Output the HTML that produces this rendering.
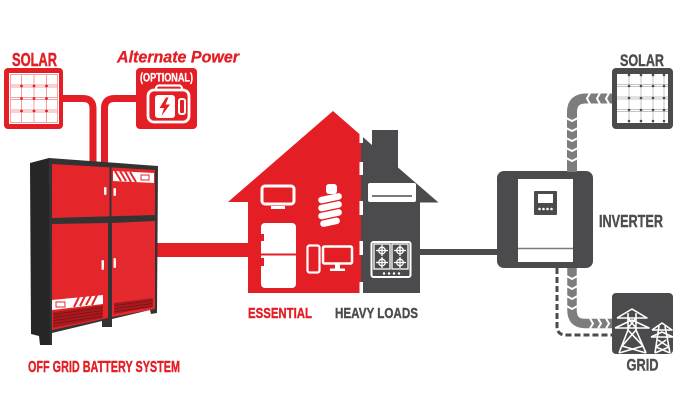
<!DOCTYPE html>
<html><head><meta charset="utf-8">
<style>
html,body{margin:0;padding:0;background:#fff;}
svg{display:block;}
text{font-family:"Liberation Sans",Arial,sans-serif;font-weight:bold;}
</style></head><body>
<svg width="696" height="402" viewBox="0 0 696 402" xmlns="http://www.w3.org/2000/svg">
<rect width="696" height="402" fill="#fff"/>

<!-- ===== LEFT SOLAR ===== -->
<text x="12" y="66" font-size="18" fill="#e31e24" stroke="#e31e24" stroke-width="0.5" textLength="45" lengthAdjust="spacingAndGlyphs">SOLAR</text>
<rect x="4" y="68" width="59" height="61" rx="4" fill="#e31e24"/>
<rect x="9" y="73" width="50" height="51" fill="#fff"/>
<rect x="10.5" y="74.5" width="47" height="48" fill="none" stroke="#f2a3a5" stroke-width="1"/>
<g stroke="#f2a3a5" stroke-width="1">
  <line x1="21.5" y1="74" x2="21.5" y2="123"/><line x1="34" y1="74" x2="34" y2="123"/><line x1="46.5" y1="74" x2="46.5" y2="123"/>
  <line x1="10" y1="85" x2="58" y2="85"/><line x1="10" y1="87" x2="58" y2="87"/>
  <line x1="10" y1="97.5" x2="58" y2="97.5"/><line x1="10" y1="99.5" x2="58" y2="99.5"/>
  <line x1="10" y1="110" x2="58" y2="110"/><line x1="10" y1="112" x2="58" y2="112"/>
</g>
<g fill="#e31e24">
  <circle cx="21.5" cy="86" r="1.4"/><circle cx="34" cy="86" r="1.4"/><circle cx="46.5" cy="86" r="1.4"/>
  <circle cx="21.5" cy="98.5" r="1.4"/><circle cx="34" cy="98.5" r="1.4"/><circle cx="46.5" cy="98.5" r="1.4"/>
  <circle cx="21.5" cy="111" r="1.4"/><circle cx="34" cy="111" r="1.4"/><circle cx="46.5" cy="111" r="1.4"/>
</g>

<!-- ===== ALTERNATE POWER ===== -->
<text x="117" y="62.5" font-size="16.5" font-style="italic" fill="#e31e24" stroke="#e31e24" stroke-width="0.3" textLength="122" lengthAdjust="spacingAndGlyphs">Alternate Power</text>
<rect x="136" y="68" width="61" height="61" rx="4" fill="#e31e24"/>
<text x="140" y="81.5" font-size="11.5" fill="#fff" stroke="#fff" stroke-width="0.3" textLength="53" lengthAdjust="spacingAndGlyphs">(OPTIONAL)</text>
<rect x="156" y="85.5" width="26" height="8" rx="3" fill="none" stroke="#fff" stroke-width="2.2"/>
<rect x="148" y="90" width="41" height="32" rx="6" fill="#e31e24" stroke="#fff" stroke-width="2.8"/>
<rect x="155" y="95" width="20" height="23" rx="3" fill="#fff"/>
<polygon points="166,97.5 159.5,108 164,108 161.5,116 170,104.5 165.5,104.5 168.5,97.5" fill="#e31e24"/>
<rect x="179" y="99" width="6" height="15" rx="2" fill="none" stroke="#fff" stroke-width="2"/>

<!-- red pipes -->
<path d="M63,98.5 H83 Q93,98.5 93,108.5 V166" fill="none" stroke="#e31e24" stroke-width="7"/>
<path d="M136,98.5 H114.5 Q104.5,98.5 104.5,108.5 V166" fill="none" stroke="#e31e24" stroke-width="7"/>

<!-- big red bar to house -->
<rect x="154" y="243" width="96" height="14" fill="#e31e24"/>

<!-- ===== CABINET ===== -->
<polygon points="30,163 49,158 52,345 40,345 39,336 31,334" fill="#262626"/>
<polygon points="49,158 158,166 157,313 151,314 150,310 112,319 112,327 102,327 102,321 52,333 52,345 50,345" fill="#333"/>
<polygon points="52,164 155,170 155,215 52,218" fill="#e4262b"/>
<line x1="110.5" y1="167" x2="110.5" y2="217" stroke="#333" stroke-width="2"/>
<polygon points="52,224 108,223 108,318 52,330" fill="#e4262b"/>
<polygon points="112,223 155,221 155,309 112,317" fill="#e52a2f"/>
<polygon points="53,312 103,305 103,318 53,328" fill="#a81a1e"/>
<g stroke="#7a1216" stroke-width="0.8">
  <line x1="54" y1="314.5" x2="102" y2="307.5"/><line x1="54" y1="317.5" x2="102" y2="310.5"/>
  <line x1="54" y1="320.5" x2="102" y2="313.5"/><line x1="54" y1="323.5" x2="102" y2="316.5"/>
</g>
<polygon points="114,303 153,298 153,307 114,314" fill="#a81a1e"/>
<g stroke="#7a1216" stroke-width="0.8">
  <line x1="115" y1="305.5" x2="152" y2="300.5"/><line x1="115" y1="308.5" x2="152" y2="303.5"/><line x1="115" y1="311.5" x2="152" y2="306.5"/>
</g>
<polygon points="113,171 154,173 154,183 113,181" fill="#fff"/>
<g stroke="#e4262b" stroke-width="2">
  <line x1="115" y1="171" x2="121" y2="181"/><line x1="120" y1="171" x2="126" y2="181"/><line x1="125" y1="171" x2="131" y2="182"/><line x1="130" y1="172" x2="136" y2="182"/>
</g>
<rect x="141" y="175" width="8" height="5" fill="none" stroke="#e4262b" stroke-width="1"/>
<polygon points="52,300 103,295 103,304 52,310" fill="#fff"/>
<g stroke="#e4262b" stroke-width="2">
  <line x1="74" y1="307" x2="79" y2="297"/><line x1="80" y1="306" x2="85" y2="296"/><line x1="86" y1="305" x2="91" y2="296"/><line x1="92" y1="305" x2="97" y2="295"/>
</g>
<rect x="56" y="302" width="9" height="5" fill="none" stroke="#e4262b" stroke-width="1"/>
<g fill="#f4f4f4">
  <rect x="104" y="187" width="2.5" height="8" rx="1"/><rect x="113.5" y="188" width="2.5" height="8" rx="1"/>
  <rect x="101.5" y="260" width="2.5" height="10" rx="1"/><rect x="113.5" y="258" width="2.5" height="10" rx="1"/>
</g>
<text x="28" y="372" font-size="16" fill="#e31e24" stroke="#e31e24" stroke-width="0.4" textLength="152" lengthAdjust="spacingAndGlyphs">OFF GRID BATTERY SYSTEM</text>

<!-- ===== HOUSE ===== -->
<path d="M228,202 L333,111 L361,135.4 L361,293 L248,293 L248,202 Z" fill="#e31e24"/>
<path d="M361,135.4 L372,145 L372,130 L398,130 L398,167.5 L438.5,202.5 L420,202.5 L420,293 L361,293 Z" fill="#4b4b4d"/>
<g fill="#fff">
  <rect x="359.5" y="134" width="3.5" height="9"/><rect x="359.5" y="162" width="3.5" height="13"/>
  <rect x="359.5" y="201" width="3.5" height="14"/><rect x="359.5" y="241" width="3.5" height="14"/>
  <rect x="359.5" y="282" width="3.5" height="11"/>
</g>
<rect x="262" y="186" width="32" height="18" rx="3" fill="none" stroke="#fff" stroke-width="3"/>
<rect x="271" y="206" width="14" height="3" fill="#fff"/>
<rect x="261" y="223" width="35" height="65" rx="4" fill="#fff"/>
<rect x="261" y="253.5" width="35" height="2" fill="#e31e24"/>
<rect x="261" y="234" width="3" height="7" fill="#e31e24"/>
<rect x="261" y="258" width="3" height="8" fill="#e31e24"/>
<rect x="326" y="184" width="11" height="10" rx="3" fill="#fff"/>
<g fill="#fff">
  <rect x="318" y="195" width="24" height="6.5" rx="3.2" transform="rotate(-12 330 198)"/>
  <rect x="318" y="203" width="24" height="6.5" rx="3.2" transform="rotate(-12 330 206)"/>
  <rect x="318" y="211" width="24" height="6.5" rx="3.2" transform="rotate(-12 330 214)"/>
  <rect x="320" y="219" width="20" height="6.5" rx="3.2" transform="rotate(-12 330 222)"/>
</g>
<rect x="307.5" y="245.5" width="12" height="27" rx="2" fill="none" stroke="#fff" stroke-width="2.2"/>
<rect x="323" y="246.5" width="29" height="17" rx="1.5" fill="none" stroke="#fff" stroke-width="2.5"/>
<rect x="335" y="264" width="5" height="5" fill="#fff"/>
<rect x="330" y="268.5" width="15" height="2.5" fill="#fff"/>
<rect x="368" y="183" width="48" height="19" rx="2" fill="#fff"/>
<line x1="372" y1="196" x2="412" y2="196" stroke="#4b4b4d" stroke-width="1.5"/>
<rect x="371.5" y="242" width="39" height="35" rx="2" fill="none" stroke="#fff" stroke-width="2"/>
<rect x="374" y="244" width="16" height="25" fill="none" stroke="#fff" stroke-width="1.3"/>
<rect x="392" y="244" width="16" height="25" fill="none" stroke="#fff" stroke-width="1.3"/>
<g fill="none" stroke="#fff" stroke-width="1.3">
  <circle cx="382" cy="250.5" r="3.3"/><circle cx="382" cy="262.5" r="3.3"/>
  <circle cx="400" cy="250.5" r="3.3"/><circle cx="400" cy="262.5" r="3.3"/>
  <line x1="376" y1="250.5" x2="388" y2="250.5"/><line x1="382" y1="245" x2="382" y2="256"/>
  <line x1="376" y1="262.5" x2="388" y2="262.5"/><line x1="382" y1="257" x2="382" y2="268"/>
  <line x1="394" y1="250.5" x2="406" y2="250.5"/><line x1="400" y1="245" x2="400" y2="256"/>
  <line x1="394" y1="262.5" x2="406" y2="262.5"/><line x1="400" y1="257" x2="400" y2="268"/>
</g>
<g fill="#fff"><circle cx="384" cy="273.5" r="1.2"/><circle cx="389" cy="273.5" r="1.2"/><circle cx="394" cy="273.5" r="1.2"/><circle cx="399" cy="273.5" r="1.2"/></g>

<text x="248" y="318" font-size="15" fill="#e31e24" stroke="#e31e24" stroke-width="0.4" textLength="64" lengthAdjust="spacingAndGlyphs">ESSENTIAL</text>
<text x="335" y="318" font-size="15" fill="#4d4d4f" stroke="#4d4d4f" stroke-width="0.4" textLength="83" lengthAdjust="spacingAndGlyphs">HEAVY LOADS</text>

<rect x="419" y="249" width="80" height="6" fill="#4b4b4d"/>

<!-- ===== INVERTER ===== -->
<rect x="497" y="171" width="96" height="97" rx="7" fill="#4b4b4d"/>
<rect x="518" y="179" width="55" height="83" fill="#fff"/>
<line x1="518" y1="248.5" x2="573" y2="248.5" stroke="#7a7a7a" stroke-width="1.5"/>
<rect x="534" y="191" width="23" height="24" rx="1" fill="#4b4b4d"/>
<rect x="538" y="194" width="15" height="9" fill="#fff"/>
<g fill="#fff"><circle cx="539.5" cy="209" r="1.3"/><circle cx="543.5" cy="209" r="1.3"/><circle cx="547.5" cy="209" r="1.3"/><circle cx="551.5" cy="209" r="1.3"/></g>
<text x="599" y="227" font-size="17.5" fill="#4d4d4f" stroke="#4d4d4f" stroke-width="0.4" textLength="64" lengthAdjust="spacingAndGlyphs">INVERTER</text>

<!-- ===== RIGHT SOLAR ===== -->
<text x="620" y="66" font-size="17" fill="#4d4d4f" stroke="#4d4d4f" stroke-width="0.4" textLength="44" lengthAdjust="spacingAndGlyphs">SOLAR</text>
<rect x="612" y="68" width="61" height="61" rx="4" fill="#4b4b4d"/>
<rect x="617" y="74" width="51" height="49" fill="#fff"/>
<g stroke="#c4c4c4" stroke-width="1">
  <line x1="629" y1="74" x2="629" y2="123"/><line x1="641" y1="74" x2="641" y2="123"/><line x1="653" y1="74" x2="653" y2="123"/><line x1="664" y1="74" x2="664" y2="123"/>
  <line x1="617" y1="84.5" x2="668" y2="84.5"/><line x1="617" y1="86.5" x2="668" y2="86.5"/>
  <line x1="617" y1="97" x2="668" y2="97"/><line x1="617" y1="99" x2="668" y2="99"/>
  <line x1="617" y1="109.5" x2="668" y2="109.5"/><line x1="617" y1="111.5" x2="668" y2="111.5"/>
</g>
<g fill="#4b4b4d">
  <circle cx="629" cy="75" r="1.3"/><circle cx="641" cy="75" r="1.3"/><circle cx="653" cy="75" r="1.3"/><circle cx="664" cy="75" r="1.3"/>
  <circle cx="629" cy="86" r="1.3"/><circle cx="641" cy="86" r="1.3"/><circle cx="653" cy="86" r="1.3"/><circle cx="664" cy="86" r="1.3"/>
  <circle cx="629" cy="98" r="1.3"/><circle cx="641" cy="98" r="1.3"/><circle cx="653" cy="98" r="1.3"/><circle cx="664" cy="98" r="1.3"/>
  <circle cx="629" cy="110" r="1.3"/><circle cx="641" cy="110" r="1.3"/><circle cx="653" cy="110" r="1.3"/><circle cx="664" cy="110" r="1.3"/>
  <circle cx="629" cy="121" r="1.3"/><circle cx="641" cy="121" r="1.3"/><circle cx="653" cy="121" r="1.3"/><circle cx="664" cy="121" r="1.3"/>
</g>

<path d="M612,98.5 H586 Q572,98.5 572,112 V172" fill="none" stroke="#7d7d7d" stroke-width="10"/>
<g fill="none" stroke="#fff" stroke-width="2">
  <polyline points="590,93 587,98.5 590,104"/><polyline points="600,93 597,98.5 600,104"/><polyline points="609,93 606,98.5 609,104"/>
  <polyline points="566,118 572,121 578,118"/><polyline points="566,128 572,131 578,128"/><polyline points="566,138 572,141 578,138"/>
  <polyline points="566,148 572,151 578,148"/><polyline points="566,158 572,161 578,158"/>
</g>

<path d="M557,268 V326 Q557,335 566,335 H612" fill="none" stroke="#4b4b4d" stroke-width="3" stroke-dasharray="6 3"/>
<path d="M572,268 V310 Q572,323.5 585,323.5 H612" fill="none" stroke="#7d7d7d" stroke-width="9.5"/>
<g fill="none" stroke="#fff" stroke-width="2">
  <polyline points="566.5,276 572,279 577.5,276"/><polyline points="566.5,286 572,289 577.5,286"/>
  <polyline points="566.5,296 572,299 577.5,296"/><polyline points="566.5,306 572,309 577.5,306"/>
  <polyline points="590,318.5 593,323.5 590,328.5"/><polyline points="598,318.5 601,323.5 598,328.5"/><polyline points="606,318.5 609,323.5 606,328.5"/>
</g>

<!-- ===== GRID ===== -->
<rect x="612" y="293" width="61" height="61" rx="4" fill="#4b4b4d"/>
<g fill="none" stroke="#fff" stroke-width="1.6" stroke-linejoin="round">
  <polyline points="617,318 632,309 647,318 617,318"/>
  <polyline points="615,328 632,320 649,328 615,328"/>
  <line x1="628" y1="313" x2="628" y2="330"/><line x1="636" y1="313" x2="636" y2="330"/>
  <line x1="628" y1="330" x2="619" y2="353"/><line x1="636" y1="330" x2="646" y2="353"/>
  <line x1="628" y1="330" x2="643" y2="346"/><line x1="636" y1="330" x2="622" y2="346"/>
  <line x1="622" y1="346" x2="646" y2="353"/><line x1="643" y1="346" x2="619" y2="353"/>
  <line x1="628" y1="318" x2="636" y2="328"/><line x1="636" y1="318" x2="628" y2="328"/>
  <polyline points="652,330 662,323 672,330 652,330"/>
  <polyline points="651,337 662,332 673,337 651,337"/>
  <line x1="659" y1="326" x2="655" y2="353"/><line x1="665" y1="326" x2="670" y2="353"/>
  <line x1="658" y1="340" x2="669" y2="347"/><line x1="666" y1="340" x2="656" y2="347"/>
  <line x1="656" y1="347" x2="670" y2="353"/><line x1="669" y1="347" x2="655" y2="353"/>
</g>
<text x="626.5" y="370.5" font-size="17" fill="#4d4d4f" stroke="#4d4d4f" stroke-width="0.4" textLength="32" lengthAdjust="spacingAndGlyphs">GRID</text>
</svg>
</body></html>
